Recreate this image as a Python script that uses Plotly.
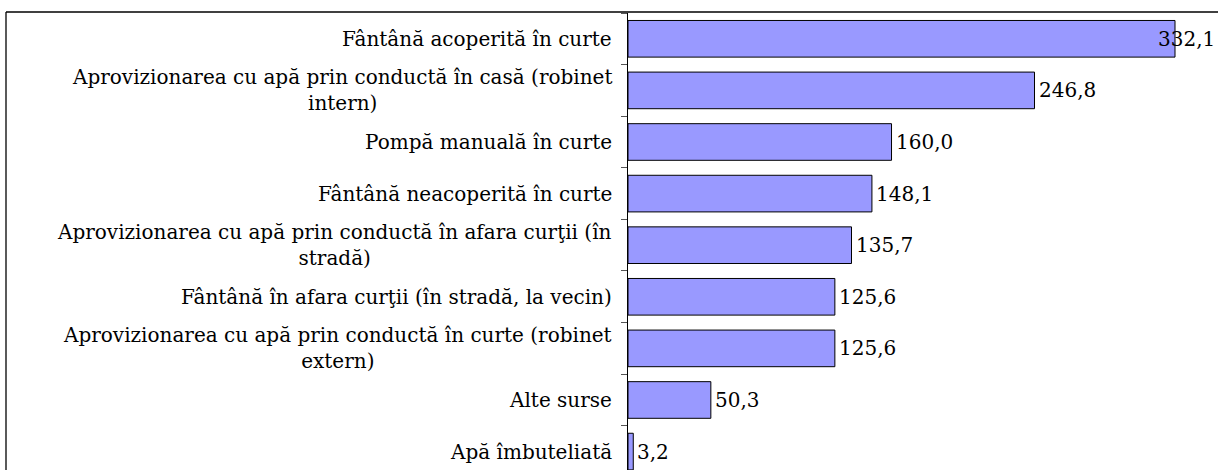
import plotly.graph_objects as go

categories = [
    "Fântână acoperită în curte",
    "Aprovizionarea cu apă prin conductă în casă (robinet<br>intern)",
    "Pompă manuală în curte",
    "Fântână neacoperită în curte",
    "Aprovizionarea cu apă prin conductă în afara curţii (în<br>stradă)",
    "Fântână în afara curţii (în stradă, la vecin)",
    "Aprovizionarea cu apă prin conductă în curte (robinet<br>extern)",
    "Alte surse",
    "Apă îmbuteliată",
]
values = [332.1, 246.8, 160.0, 148.1, 135.7, 125.6, 125.6, 50.3, 3.2]

FONT = "DejaVu Serif"
FS = 20
W, H = 1218, 470
ML, MR, MT, MB = 628, 1, 13, 0
XMAX = 357.6
plot_w = W - ML - MR
plot_h = H - MT - MB

ycats = [f"c{i}" for i in range(len(categories))]

fig = go.Figure()
fig.add_trace(go.Bar(
    orientation="h",
    x=values,
    y=ycats,
    width=0.71,
    marker=dict(color="#9999FF", line=dict(color="#000000", width=1)),
    hoverinfo="skip",
))

annotations = []
for i, (cat, v) in enumerate(zip(categories, values)):
    annotations.append(dict(
        xref="paper", yref="y", x=0, y=i, text=cat,
        xanchor="right", yanchor="middle", align="center",
        xshift=-14, showarrow=False,
        font=dict(family=FONT, size=FS, color="#000000"),
    ))
    lbl = f"{v:.1f}".replace(".", ",")
    px_end = v / XMAX * plot_w
    if px_end + 64 > plot_w:
        annotations.append(dict(
            xref="paper", yref="y", x=1, y=i, text=lbl,
            xanchor="right", yanchor="middle", showarrow=False, xshift=0,
            font=dict(family=FONT, size=FS, color="#000000"),
        ))
    else:
        annotations.append(dict(
            xref="x", yref="y", x=v, y=i, text=lbl,
            xanchor="left", yanchor="middle", showarrow=False, xshift=2,
            font=dict(family=FONT, size=FS, color="#000000"),
        ))

# outer chart border (left and top)
x_left = (6 - ML) / plot_w
y_top = 1 + (MT - 12) / plot_h
shapes = [
    dict(type="line", xref="paper", yref="paper", x0=x_left, x1=x_left, y0=-0.05, y1=y_top,
         line=dict(color="#000000", width=1.3)),
    dict(type="line", xref="paper", yref="paper", x0=x_left, x1=1.01, y0=y_top, y1=y_top,
         line=dict(color="#000000", width=1.3)),
]

fig.update_layout(
    width=W, height=H,
    margin=dict(l=ML, r=MR, t=MT, b=MB, pad=0),
    paper_bgcolor="#FFFFFF", plot_bgcolor="#FFFFFF",
    showlegend=False,
    annotations=annotations,
    shapes=shapes,
    xaxis=dict(range=[0, XMAX], showgrid=False, zeroline=False, showticklabels=False,
               ticks="", showline=False, fixedrange=True),
    yaxis=dict(type="category", range=[len(categories) - 1 + 0.357, -0.5],
               showgrid=False, zeroline=False, showticklabels=False,
               ticks="outside", tickson="boundaries", ticklen=6, tickcolor="#555555",
               tickwidth=1, showline=True, linecolor="#000000", linewidth=1,
               fixedrange=True),
)

fig.write_html("out.html", config={"displayModeBar": False},
               post_script="document.body.style.margin='0';document.body.style.overflow='hidden';")
